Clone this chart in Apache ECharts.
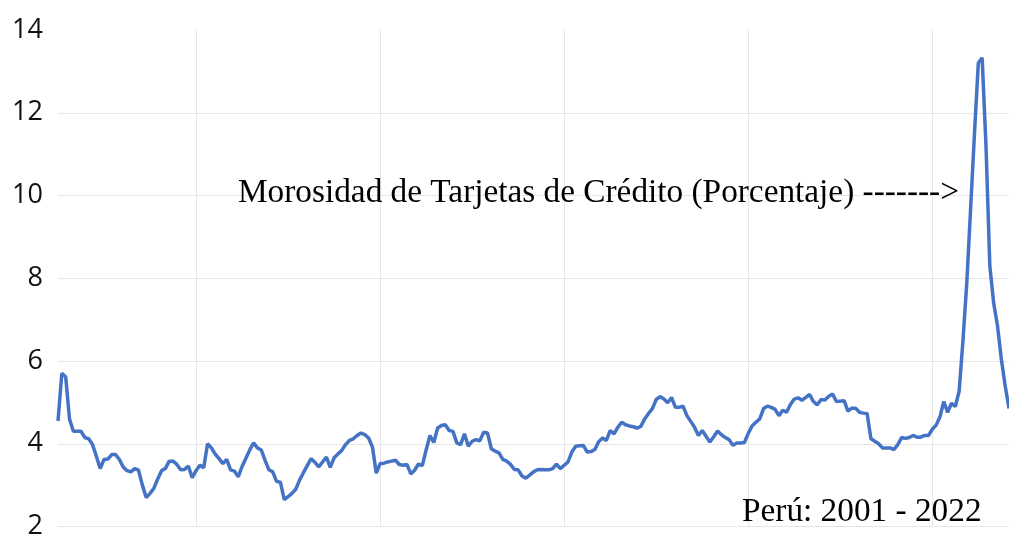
<!DOCTYPE html>
<html>
<head>
<meta charset="utf-8">
<script src="https://cdn.jsdelivr.net/npm/echarts@6/dist/echarts.min.js"></script>
<style>
  html, body { margin: 0; padding: 0; background: #ffffff; }
  #chart { width: 1009px; height: 540px; }
</style>
</head>
<body>
<div id="chart"></div>
<script>
// Monthly credit-card delinquency rate (%), Peru, from Jan 2001
const startYear = 2001;
const v2001 = [4.55, 5.70, 5.62, 4.60, 4.30, 4.30, 4.30, 4.15, 4.12, 3.98, 3.70, 3.40];
const v2002 = [3.62, 3.63, 3.74, 3.74, 3.62, 3.44, 3.35, 3.32, 3.40, 3.36, 3.00, 2.70];
const v2003 = [2.80, 2.92, 3.15, 3.35, 3.40, 3.58, 3.58, 3.50, 3.37, 3.38, 3.46, 3.18];
const v2004 = [3.35, 3.48, 3.42, 4.00, 3.90, 3.75, 3.64, 3.52, 3.62, 3.37, 3.34, 3.20];
const v2005 = [3.45, 3.65, 3.85, 4.02, 3.90, 3.85, 3.60, 3.37, 3.32, 3.09, 3.07, 2.65];
const v2006 = [2.72, 2.80, 2.90, 3.12, 3.30, 3.47, 3.64, 3.55, 3.44, 3.56, 3.68, 3.43];
const v2007 = [3.66, 3.75, 3.84, 3.98, 4.08, 4.12, 4.20, 4.26, 4.22, 4.14, 3.92, 3.29];
const v2008 = [3.52, 3.53, 3.56, 3.58, 3.60, 3.50, 3.48, 3.50, 3.27, 3.36, 3.51, 3.47];
const v2009 = [3.85, 4.20, 4.03, 4.38, 4.44, 4.46, 4.32, 4.30, 4.02, 3.98, 4.24, 3.94];
const v2010 = [4.06, 4.10, 4.07, 4.28, 4.26, 3.88, 3.82, 3.78, 3.62, 3.58, 3.50, 3.38];
const v2011 = [3.37, 3.22, 3.17, 3.24, 3.32, 3.37, 3.38, 3.37, 3.37, 3.40, 3.51, 3.40];
const v2012 = [3.48, 3.56, 3.80, 3.94, 3.95, 3.96, 3.80, 3.81, 3.86, 4.05, 4.14, 4.08];
const v2013 = [4.32, 4.24, 4.40, 4.52, 4.46, 4.43, 4.41, 4.38, 4.42, 4.60, 4.73, 4.85];
const v2014 = [5.07, 5.14, 5.08, 4.99, 5.12, 4.88, 4.88, 4.91, 4.68, 4.54, 4.40, 4.20];
const v2015 = [4.32, 4.18, 4.04, 4.17, 4.31, 4.22, 4.15, 4.10, 3.96, 4.02, 4.02, 4.03];
const v2016 = [4.25, 4.43, 4.52, 4.60, 4.85, 4.91, 4.88, 4.83, 4.68, 4.81, 4.76, 4.95];
const v2017 = [5.08, 5.11, 5.05, 5.12, 5.19, 5.02, 4.94, 5.07, 5.06, 5.15, 5.20, 5.02];
const v2018 = [5.03, 5.04, 4.79, 4.86, 4.86, 4.76, 4.74, 4.73, 4.12, 4.06, 4.00, 3.90];
const v2019 = [3.90, 3.90, 3.86, 3.98, 4.15, 4.13, 4.15, 4.20, 4.16, 4.16, 4.20, 4.20];
const v2020 = [4.35, 4.45, 4.65, 5.02, 4.76, 4.98, 4.90, 5.27, 6.50, 7.90, 9.70, 11.50];
const v2021 = [13.20, 13.33, 11.20, 8.30, 7.40, 6.85, 6.05, 5.40, 4.85];

const yearly = [v2001, v2002, v2003, v2004, v2005, v2006, v2007, v2008, v2009, v2010,
                v2011, v2012, v2013, v2014, v2015, v2016, v2017, v2018, v2019, v2020, v2021];

// Vertical gridlines in the reference fall on January of these years
const gridMonths = ['2004-01', '2008-01', '2012-01', '2016-01', '2020-01'];

// y-axis ticks
const yMin = 2, yMax = 14, yStep = 2;

const titleText = 'Morosidad de Tarjetas de Crédito (Porcentaje) ------->';
const noteText = 'Perú: 2001 - 2022';

// Build categories and flat values
const months = [];
const values = [];
yearly.forEach((arr, yi) => {
  arr.forEach((v, mi) => {
    months.push((startYear + yi) + '-' + String(mi + 1).padStart(2, '0'));
    values.push(v);
  });
});

const chart = echarts.init(document.getElementById('chart'), null, { renderer: 'canvas' });
const grid = '#e6e6e6';
const serif = '"Liberation Serif", "Times New Roman", serif';
chart.setOption({
  animation: false,
  backgroundColor: '#ffffff',
  title: [
    {
      text: titleText, left: 238, top: 173, padding: 0,
      textStyle: { color: '#000', fontFamily: serif, fontSize: 33.3, fontWeight: 'normal', lineHeight: 40 }
    },
    {
      text: noteText, left: 742, top: 492, padding: 0,
      textStyle: { color: '#000', fontFamily: serif, fontSize: 33.3, fontWeight: 'normal', lineHeight: 40 }
    }
  ],
  grid: { left: 58, right: 0, top: 30, bottom: 5, containLabel: false },
  xAxis: {
    type: 'category',
    data: months,
    boundaryGap: false,
    axisLine: { show: true, lineStyle: { color: grid, width: 1 } },
    axisTick: { show: false },
    axisLabel: { show: false },
    splitLine: {
      show: true,
      interval: (idx, val) => gridMonths.includes(val),
      lineStyle: { color: grid, width: 1 }
    }
  },
  yAxis: {
    type: 'value',
    min: yMin, max: yMax, interval: yStep,
    axisLine: { show: false },
    axisTick: { show: false },
    axisLabel: {
      margin: 15,
      color: '#111',
      fontFamily: 'Open Sans',
      fontSize: 27,
      padding: [10, 0, 0, 0]
    },
    splitLine: {
      show: true,
      lineStyle: { color: [grid, grid, grid, grid, grid, grid, 'rgba(0,0,0,0)'], width: 1 }
    }
  },
  series: [{
    type: 'line',
    data: values,
    showSymbol: false,
    symbol: 'none',
    lineStyle: { color: '#4472C4', width: 3.5 },
    clip: true
  }]
});
</script>
</body>
</html>
